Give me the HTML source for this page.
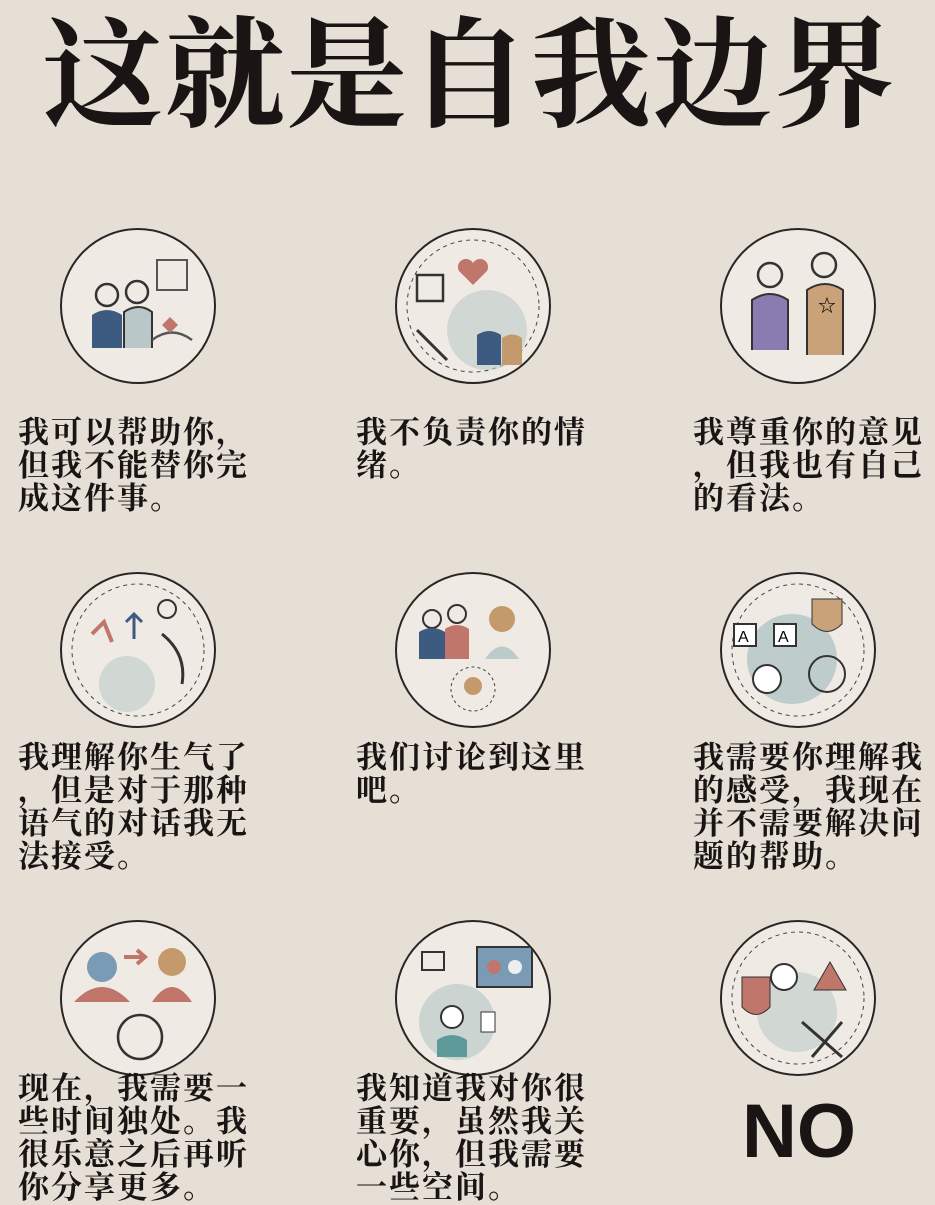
<!DOCTYPE html>
<html><head><meta charset="utf-8">
<style>
html,body{margin:0;padding:0}
body{width:935px;height:1200px;background:#e5dfd5;position:relative;overflow:hidden;font-family:"Liberation Serif","Noto Serif CJK SC",serif;color:#1a1414}
.title{position:absolute;left:30px;top:12px;width:880px;text-align:center;font-size:120px;font-weight:bold;letter-spacing:2px;line-height:130px;white-space:nowrap}
.icon{position:absolute;width:156px;height:156px;border-radius:50%;border:2.5px solid #2a2626;background:#efebe4;box-sizing:border-box;overflow:hidden}
.txt{position:absolute;font-size:31px;font-weight:bold;line-height:33px;white-space:nowrap;letter-spacing:2px}
.no{position:absolute;left:742px;top:1092px;font-family:"Liberation Sans",sans-serif;font-weight:bold;font-size:76px;line-height:80px}
</style></head><body>
<div class="title">这就是自我边界</div>

<div class="icon" style="left:60px;top:228px"><svg width="152" height="152"><circle cx="45" cy="65" r="11" fill="none" stroke="#333" stroke-width="2.5"/><path d="M30 118 V85 q15-10 30 0 V118" fill="#3d5a80"/><circle cx="75" cy="62" r="11" fill="none" stroke="#333" stroke-width="2.5"/><path d="M62 118 V82 q15-10 28 0 V118" fill="#b9c7c9" stroke="#333" stroke-width="2"/><rect x="95" y="30" width="30" height="30" fill="none" stroke="#555" stroke-width="2"/><path d="M90 110 q20-15 40 0" fill="none" stroke="#555" stroke-width="2.5"/><path d="M100 95 l8-8 8 8 -8 8z" fill="#c0766a"/></svg></div>
<div class="icon" style="left:395px;top:228px"><svg width="152" height="152"><circle cx="76" cy="76" r="66" fill="none" stroke="#444" stroke-dasharray="4 4"/><path d="M76 55 l-14-14 a8 8 0 0 1 14-8 a8 8 0 0 1 14 8z" fill="#c0766a"/><rect x="20" y="45" width="26" height="26" fill="none" stroke="#333" stroke-width="2.5"/><circle cx="90" cy="100" r="40" fill="#bccbc9" opacity=".6"/><path d="M80 135 V105 q12-8 24 0 V135" fill="#3d5a80"/><path d="M105 135 V108 q10-7 20 0 V135" fill="#c49a6c"/><path d="M20 100 l30 30" stroke="#333" stroke-width="3"/></svg></div>
<div class="icon" style="left:720px;top:228px"><svg width="152" height="152"><circle cx="48" cy="45" r="12" fill="none" stroke="#333" stroke-width="2.5"/><path d="M30 120 V70 q18-12 36 0 V120" fill="#8a7bb0" stroke="#333" stroke-width="2"/><circle cx="102" cy="35" r="12" fill="none" stroke="#333" stroke-width="2.5"/><path d="M85 125 V60 q18-12 36 0 V125" fill="#c9a27a" stroke="#333" stroke-width="2"/><text x="96" y="82" font-size="18">☆</text></svg></div>

<div class="txt" style="left:18px;top:416px">我可以帮助你，<br>但我不能替你完<br>成这件事。</div>
<div class="txt" style="left:356px;top:416px">我不负责你的情<br>绪。</div>
<div class="txt" style="left:693px;top:416px">我尊重你的意见<br>，但我也有自己<br>的看法。</div>

<div class="icon" style="left:60px;top:572px"><svg width="152" height="152"><circle cx="76" cy="76" r="66" fill="none" stroke="#444" stroke-dasharray="4 4"/><path d="M30 60 l12-12 l8 20" stroke="#c0766a" stroke-width="4" fill="none"/><path d="M72 65 V40 M64 48 l8-8 8 8" stroke="#3d5a80" stroke-width="3" fill="none"/><circle cx="105" cy="35" r="9" fill="none" stroke="#333" stroke-width="2"/><circle cx="65" cy="110" r="28" fill="#bccbc9" opacity=".6"/><path d="M100 60 q25 20 20 50" fill="none" stroke="#333" stroke-width="3"/></svg></div>
<div class="icon" style="left:395px;top:572px"><svg width="152" height="152"><circle cx="35" cy="45" r="9" fill="none" stroke="#333" stroke-width="2"/><path d="M22 85 V58 q13-8 26 0 V85" fill="#3d5a80"/><circle cx="60" cy="40" r="9" fill="none" stroke="#333" stroke-width="2"/><path d="M48 85 V55 q12-8 24 0 V85" fill="#c0766a"/><circle cx="105" cy="45" r="13" fill="#c49a6c"/><path d="M88 85 q17-25 34 0z" fill="#bccbc9"/><circle cx="76" cy="115" r="22" fill="none" stroke="#444" stroke-dasharray="3 3"/><circle cx="76" cy="112" r="9" fill="#c49a6c"/></svg></div>
<div class="icon" style="left:720px;top:572px"><svg width="152" height="152"><circle cx="76" cy="76" r="66" fill="none" stroke="#444" stroke-dasharray="4 4"/><circle cx="70" cy="85" r="45" fill="#a9c0c2" opacity=".7"/><rect x="12" y="50" width="22" height="22" fill="#fff" stroke="#333" stroke-width="2"/><text x="16" y="68" font-size="16" font-family="Liberation Sans">A</text><rect x="52" y="50" width="22" height="22" fill="#fff" stroke="#333" stroke-width="2"/><text x="56" y="68" font-size="16" font-family="Liberation Sans">A</text><path d="M90 25 h30 v25 q-15 15 -30 0z" fill="#c9a27a" stroke="#333"/><circle cx="45" cy="105" r="14" fill="#fff" stroke="#333" stroke-width="2"/><circle cx="105" cy="100" r="18" fill="none" stroke="#333" stroke-width="2"/></svg></div>

<div class="txt" style="left:18px;top:741px">我理解你生气了<br>，但是对于那种<br>语气的对话我无<br>法接受。</div>
<div class="txt" style="left:356px;top:741px">我们讨论到这里<br>吧。</div>
<div class="txt" style="left:693px;top:741px">我需要你理解我<br>的感受，我现在<br>并不需要解决问<br>题的帮助。</div>

<div class="icon" style="left:60px;top:920px"><svg width="152" height="152"><circle cx="40" cy="45" r="15" fill="#7a9bb5"/><path d="M12 80 q28-30 56 0z" fill="#c0766a"/><path d="M62 35 h20 M75 28 l8 7 -8 7" stroke="#c0766a" stroke-width="4" fill="none"/><circle cx="110" cy="40" r="14" fill="#c49a6c"/><path d="M90 80 q20-30 40 0z" fill="#c0766a"/><circle cx="78" cy="115" r="22" fill="none" stroke="#333" stroke-width="2.5"/></svg></div>
<div class="icon" style="left:395px;top:920px"><svg width="152" height="152"><circle cx="60" cy="100" r="38" fill="#bccbc9" opacity=".7"/><rect x="25" y="30" width="22" height="18" fill="none" stroke="#333" stroke-width="2"/><rect x="80" y="25" width="55" height="40" fill="#7a9bb5" stroke="#333" stroke-width="2"/><circle cx="97" cy="45" r="7" fill="#c0766a"/><circle cx="118" cy="45" r="7" fill="#eee"/><circle cx="55" cy="95" r="11" fill="#fff" stroke="#333" stroke-width="2"/><path d="M40 135 V118 q15-10 30 0 V135" fill="#5f9a9a"/><rect x="84" y="90" width="14" height="20" fill="#fff" stroke="#333"/></svg></div>
<div class="icon" style="left:720px;top:920px"><svg width="152" height="152"><circle cx="76" cy="76" r="66" fill="none" stroke="#444" stroke-dasharray="4 4"/><circle cx="75" cy="90" r="40" fill="#bccbc9" opacity=".6"/><path d="M20 55 h28 v30 q-14 15 -28 0z" fill="#c0766a" stroke="#333"/><circle cx="62" cy="55" r="13" fill="#fff" stroke="#333" stroke-width="2"/><path d="M108 40 l16 28 h-32z" fill="#c0766a" stroke="#333"/><path d="M80 100 l40 35 M120 100 l-30 35" stroke="#333" stroke-width="3"/></svg></div>

<div class="txt" style="left:18px;top:1072px">现在，我需要一<br>些时间独处。我<br>很乐意之后再听<br>你分享更多。</div>
<div class="txt" style="left:356px;top:1072px">我知道我对你很<br>重要，虽然我关<br>心你，但我需要<br>一些空间。</div>
<div class="no">NO</div>
</body></html>
